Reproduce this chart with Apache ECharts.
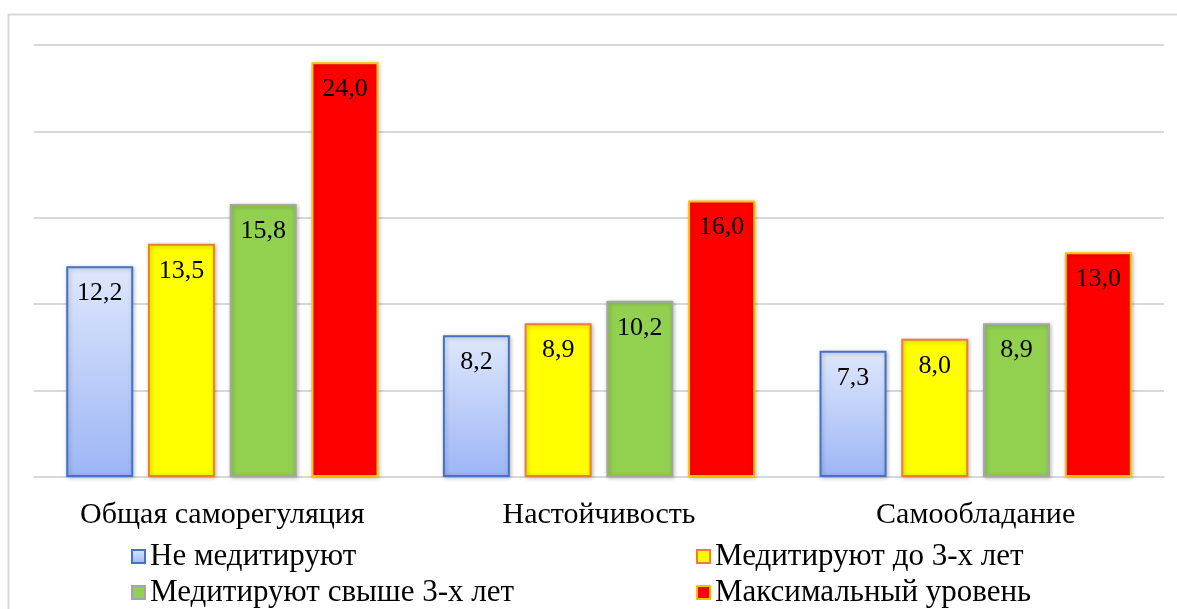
<!DOCTYPE html>
<html><head><meta charset="utf-8">
<script src="https://cdn.jsdelivr.net/npm/echarts@6/dist/echarts.min.js"></script>
<style>html,body{margin:0;padding:0;background:#fff}#c{width:1177px;height:609px}</style>
</head><body><div id="c"></div>
<script>
const categories = ['Общая саморегуляция', 'Настойчивость', 'Самообладание'];
const seriesNames = ['Не медитируют', 'Медитируют до 3-х лет', 'Медитируют свыше 3-х лет', 'Максимальный уровень'];
const notMeditating = [12.2, 8.2, 7.3];
const upTo3Years = [13.5, 8.9, 8.0];
const over3Years = [15.8, 10.2, 8.9];
const maxLevel = [24.0, 16.0, 13.0];

const FONT = '"Liberation Serif", "Times New Roman", serif';
const styles = [
  {color: {type:'linear',x:0,y:0,x2:0,y2:1,colorStops:[{offset:0,color:'#dfe7fc'},{offset:1,color:'#9cb6f6'}]}, borderColor:'#4472c4'},
  {color:'#ffff00', borderColor:'#ed7d31'},
  {color:'#92d050', borderColor:'#a5a5a5'},
  {color:'#ff0000', borderColor:'#ffc000'}
];
const values = [notMeditating, upTo3Years, over3Years, maxLevel];

const chart = echarts.init(document.getElementById('c'));
const legendText = {fontFamily:FONT, fontSize:31, color:'#000', lineHeight:31};
chart.setOption({
  animation: false,
  graphic: [{type:'rect', shape:{x:8.5, y:14.5, width:1200, height:700}, style:{fill:'none', stroke:'#d9d9d9', lineWidth:2}, silent:true}],
  grid: {left:34, right:13, top:45, bottom:132, containLabel:false},
  legend: [
    {data:[seriesNames[0], seriesNames[2]], orient:'vertical', left:131, top:541, itemWidth:13, itemHeight:13, itemGap:5,
     textStyle:legendText, icon:'rect', padding:0},
    {data:[seriesNames[1], seriesNames[3]], orient:'vertical', left:696, top:541, itemWidth:13, itemHeight:13, itemGap:5,
     textStyle:legendText, icon:'rect', padding:0}
  ],
  xAxis: {type:'category', data:categories,
    axisLine:{lineStyle:{color:'#d9d9d9', width:2}}, axisTick:{show:false},
    axisLabel:{fontFamily:FONT, fontSize:30, color:'#000', margin:23}},
  yAxis: {type:'value', min:0, max:25, interval:5,
    axisLabel:{show:false}, axisLine:{show:false}, axisTick:{show:false},
    splitLine:{lineStyle:{color:'#d9d9d9', width:2}}},
  series: values.map((v, i) => ({
    name: seriesNames[i], type:'bar', data:v, barWidth:67, barGap:'22%',
    itemStyle:{color:styles[i].color, borderColor:styles[i].borderColor, borderWidth:2,
      shadowColor:'rgba(0,0,0,0.25)', shadowBlur:4, shadowOffsetX:1, shadowOffsetY:1},
    label:{show:true, position:'insideTop', distance:14, fontFamily:FONT, fontSize:26, color:'#000',
      formatter: p => p.value.toFixed(1).replace('.', ',')}
  }))
});
</script></body></html>
